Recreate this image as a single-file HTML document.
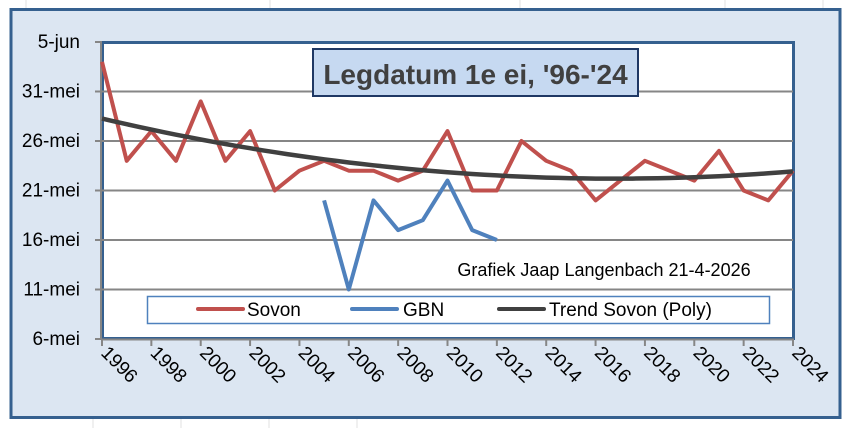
<!DOCTYPE html>
<html><head><meta charset="utf-8"><style>
body{margin:0;background:#fff;}
svg{display:block;font-family:"Liberation Sans",Calibri,sans-serif;}
</style></head><body>
<svg width="847" height="428" viewBox="0 0 847 428">
<g id="sheet-grid" stroke="#e0e0e0" stroke-width="1">
<line x1="26" y1="0" x2="26" y2="10"/><line x1="270" y1="0" x2="270" y2="10"/><line x1="520" y1="0" x2="520" y2="10"/><line x1="725" y1="0" x2="725" y2="10"/><line x1="823" y1="0" x2="823" y2="10"/>
<line x1="93" y1="419" x2="93" y2="428"/><line x1="181" y1="419" x2="181" y2="428"/><line x1="269" y1="419" x2="269" y2="428"/><line x1="357" y1="419" x2="357" y2="428"/>
</g>
<rect x="11" y="9.5" width="829" height="408" fill="#dce6f2" stroke="#35608f" stroke-width="3"/>
<rect x="102.5" y="42.5" width="691" height="296" fill="#fff" stroke="#35608f" stroke-width="3"/>
<g id="grid"></g>
<g id="yaxis"></g>
<g id="xaxis"></g>
<g id="series"></g>
<g>
<rect x="313" y="49" width="325" height="47" fill="#c6d9f1" stroke="#1f3864" stroke-width="2"/>
<text x="475.5" y="84" text-anchor="middle" font-size="28" font-weight="bold" fill="#404040">Legdatum 1e ei, '96-'24</text>
</g>
<text x="604" y="276" text-anchor="middle" font-size="18" fill="#000">Grafiek Jaap Langenbach 21-4-2026</text>
<g>
<rect x="147.5" y="296.5" width="622" height="27" fill="#fff" stroke="#4f81bd" stroke-width="1.5"/>
<g><line x1="198" y1="309" x2="243" y2="309" stroke="#c0504d" stroke-width="4" stroke-linecap="round"/><text x="247" y="316" font-size="19">Sovon</text></g>
<g><line x1="352" y1="309" x2="397" y2="309" stroke="#4f81bd" stroke-width="4" stroke-linecap="round"/><text x="403" y="316" font-size="19">GBN</text></g>
<g><line x1="499" y1="309" x2="544" y2="309" stroke="#404040" stroke-width="4" stroke-linecap="round"/><text x="549" y="316" font-size="19">Trend Sovon (Poly)</text></g>
</g>
</svg>
<script>
const years=[1996,1997,1998,1999,2000,2001,2002,2003,2004,2005,2006,2007,2008,2009,2010,2011,2012,2013,2014,2015,2016,2017,2018,2019,2020,2021,2022,2023,2024];
const sovon=[34,24,27,24,30,24,27,21,23,24,23,23,22,23,27,21,21,26,24,23,20,22,24,23,22,25,21,20,23];
const gbnYears=[2005,2006,2007,2008,2009,2010,2011,2012];
const gbn=[20,11,20,17,18,22,17,16];
const yTicks=[6,11,16,21,26,31,36];
const yTickLabels=["6-mei","11-mei","16-mei","21-mei","26-mei","31-mei","5-jun"];
const xTicks=[1996,1998,2000,2002,2004,2006,2008,2010,2012,2014,2016,2018,2020,2022,2024];

const NS="http://www.w3.org/2000/svg";
const X=v=>102+(v-1996)*(793-102)/28;
const Y=v=>339-(v-6)*(339-42)/30;
function mk(t,a,p){const e=document.createElementNS(NS,t);for(const k in a)e.setAttribute(k,a[k]);p.appendChild(e);return e;}
const grid=document.getElementById('grid'),ya=document.getElementById('yaxis'),xa=document.getElementById('xaxis'),sr=document.getElementById('series');
yTicks.forEach((v,i)=>{
  if(v>6&&v<36){const l=mk('line',{x1:102,x2:793,y1:Y(v),y2:Y(v),stroke:'#868686','stroke-width':2},grid);
  
  }
  mk('line',{x1:95,x2:102,y1:Y(v),y2:Y(v),stroke:'#868686','stroke-width':2},ya);
  const t=mk('text',{x:80,y:Y(v)+6,'text-anchor':'end','font-size':19,fill:'#000'},ya);
  t.textContent=yTickLabels[i];
  
  
});
mk('line',{x1:101,x2:101,y1:42,y2:339,stroke:'#868686','stroke-width':2},ya);
mk('line',{x1:101,x2:794,y1:339.5,y2:339.5,stroke:'#868686','stroke-width':2},xa);
xTicks.forEach(v=>{
  mk('line',{x1:X(v),x2:X(v),y1:339,y2:346,stroke:'#868686','stroke-width':2},xa);
  const t=mk('text',{x:0,y:0,'font-size':19,fill:'#000',transform:`translate(${X(v)-2},${354}) rotate(45)`},xa);
  t.textContent=v;
  
  
});
// quadratic trend fit from data
const n=years.length,xs=years.map(y=>y-2010);
let S=[0,0,0,0,0],T=[0,0,0];
xs.forEach((x,i)=>{for(let k=0;k<5;k++)S[k]+=x**k;for(let k=0;k<3;k++)T[k]+=sovon[i]*x**k;});
const M=[[S[0],S[1],S[2],T[0]],[S[1],S[2],S[3],T[1]],[S[2],S[3],S[4],T[2]]];
for(let i=0;i<3;i++){for(let j=i+1;j<3;j++){const f=M[j][i]/M[i][i];for(let k=i;k<4;k++)M[j][k]-=f*M[i][k];}}
const c=[0,0,0];for(let i=2;i>=0;i--){let s=M[i][3];for(let k=i+1;k<3;k++)s-=M[i][k]*c[k];c[i]=s/M[i][i];}
const trend=v=>c[0]+c[1]*(v-2010)+c[2]*(v-2010)**2;
const pts=(xv,yv)=>xv.map((x,i)=>X(x).toFixed(1)+','+Y(yv[i]).toFixed(1)).join(' ');
const s1=mk('polyline',{points:pts(years,sovon),fill:'none',stroke:'#c0504d','stroke-width':4,'stroke-linejoin':'round'},sr);


const s2=mk('polyline',{points:pts(gbnYears,gbn),fill:'none',stroke:'#4f81bd','stroke-width':4,'stroke-linejoin':'round'},sr);


const ty=[];for(let y=1996;y<=2024;y+=0.5)ty.push(y);
const s3=mk('polyline',{points:pts(ty,ty.map(trend)),fill:'none',stroke:'#404040','stroke-width':4.5},sr);


</script>
</body></html>
